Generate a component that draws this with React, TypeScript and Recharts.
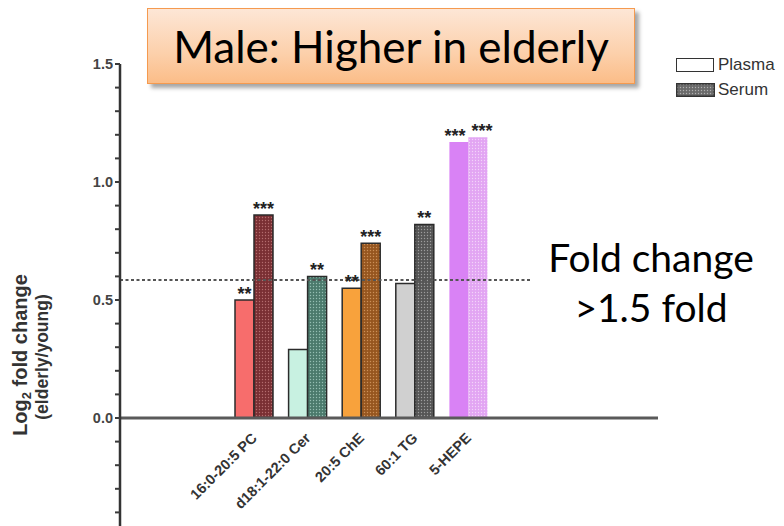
import React from 'react';
import { BarChart, Bar, XAxis, YAxis, Cell, LabelList, ReferenceLine } from 'recharts';

// lipid species, log2 fold change (elderly / young)
const species = ['16:0-20:5 PC', 'd18:1-22:0 Cer', '20:5 ChE', '60:1 TG', '5-HEPE'];
const plasma = [0.5, 0.29, 0.55, 0.57, 1.17];
const serum = [0.86, 0.6, 0.74, 0.82, 1.19];
const plasmaSig = ['**', '', '**', '', '***'];
const serumSig = ['***', '**', '***', '**', '***'];

const yTicks = [-0.5, -0.4, -0.3, -0.2, -0.1, 0, 0.1, 0.2, 0.3, 0.4, 0.5, 0.6, 0.7, 0.8, 0.9, 1.0, 1.1, 1.2, 1.3, 1.4, 1.5];
const labelledTicks = [0, 0.5, 1.0, 1.5];
const FOLD_THRESHOLD = 1.5;

const plasmaFill = ['#f76d6c', '#c8f1e1', '#f8a23c', '#d0d0d0', '#d982f5'];
const serumBase = ['#7a2f33', '#4b7a6c', '#96561f', '#555555', '#e2a5f3'];
const serumDot = ['#b46c6d', '#95beb2', '#cc9058', '#9c9c9c', '#f3d3fa'];
const barStroke = ['#2b2b2b', '#2b2b2b', '#2b2b2b', '#2b2b2b', 'none'];
// spread the asterisks apart where two neighbouring labels would touch
const sigNudge = [0, 0, 0, 0, 4];

const data = species.map((name, i) => ({
    name,
    plasma: plasma[i],
    serum: serum[i],
    plasmaSig: plasmaSig[i],
    serumSig: serumSig[i],
}));

const Y_MIN = -0.5;
const Y_MAX = 1.5;
const MARGIN = { top: 64, right: 126, bottom: 4, left: 60 };
const X_AXIS_H = 20;
const CHART_W = 784;
const CHART_H = 560;
const PLOT_H = CHART_H - MARGIN.top - MARGIN.bottom - X_AXIS_H;
const ZERO_Y = MARGIN.top + (PLOT_H * Y_MAX) / (Y_MAX - Y_MIN);

const axisFont = '"Liberation Sans", Arial, sans-serif';

const YTick = ({ x, y, payload }: any) => {
    const v = Number(payload.value);
    const labelled = labelledTicks.some((m) => Math.abs(m - v) < 1e-6);
    return (
        <g>
            <line x1={x - 5} y1={y} x2={x} y2={y} stroke="#3a3a3a" strokeWidth={2} />
            {labelled && (
                <text x={x - 7} y={y} dy={5} textAnchor="end" fontFamily={axisFont} fontWeight="bold" fontSize={14.5} fill="#444">
                    {v.toFixed(1)}
                </text>
            )}
        </g>
    );
};

const XTick = ({ x, payload }: any) => {
    const tx = x + 4;
    const ty = ZERO_Y + 21;
    return (
        <text x={tx} y={ty} textAnchor="end" transform={`rotate(-45, ${tx}, ${ty})`} fontFamily={axisFont} fontWeight="bold" fontSize={14.5} fill="#333">
            {payload.value}
        </text>
    );
};

const YLabel = () => (
    <g fontFamily={axisFont} fontWeight="bold" fill="#333">
        <text x={27} y={355} fontSize={20} textAnchor="middle" transform="rotate(-90, 27, 355)">
            Log<tspan dy={4} fontSize={13}>2</tspan>
            <tspan dy={-4}> fold change</tspan>
        </text>
        <text x={48} y={357} fontSize={17.5} textAnchor="middle" transform="rotate(-90, 48, 357)">
            (elderly/young)
        </text>
    </g>
);

const sigLabel = (side: number) => (props: any) => {
    const { x, y, width, value, index } = props;
    if (!value) return null;
    return (
        <text x={x + width / 2 + side * sigNudge[index]} y={y} textAnchor="middle" fontFamily={axisFont} fontWeight="bold" fontSize={18} fill="#222">
            {value}
        </text>
    );
};

const App = () => {
    return (
        <div style={{ position: 'absolute', left: 0, top: 0, width: CHART_W, height: 526, overflow: 'hidden', background: '#fff' }}>
            <BarChart width={CHART_W} height={CHART_H} data={data} margin={MARGIN} barGap={0}>
                <defs>
                    {serumBase.map((c, i) => (
                        <pattern key={i} id={`dots${i}`} width={3} height={3} patternUnits="userSpaceOnUse">
                            <rect width={3} height={3} fill={c} />
                            <circle cx={1.5} cy={1.5} r={0.7} fill={serumDot[i]} />
                        </pattern>
                    ))}
                </defs>
                <XAxis dataKey="name" height={X_AXIS_H} axisLine={false} tickLine={false} interval={0} padding={{ left: 107, right: 163 }} tick={<XTick />} />
                <YAxis
                    width={60}
                    domain={[Y_MIN, Y_MAX]}
                    ticks={yTicks}
                    interval={0}
                    allowDataOverflow
                    tickSize={0}
                    tickMargin={0}
                    tickLine={false}
                    axisLine={{ stroke: '#333', strokeWidth: 2.5 }}
                    tick={<YTick />}
                    label={<YLabel />}
                />
                <ReferenceLine y={Math.log2(FOLD_THRESHOLD)} stroke="#555" strokeWidth={2} strokeDasharray="3 2.5" />
                <ReferenceLine y={0} stroke="#5a5a5a" strokeWidth={3} />
                <Bar dataKey="plasma" barSize={19} isAnimationActive={false} strokeWidth={1.5}>
                    {data.map((_, i) => (
                        <Cell key={i} fill={plasmaFill[i]} stroke={barStroke[i]} />
                    ))}
                    <LabelList dataKey="plasmaSig" content={sigLabel(-1)} />
                </Bar>
                <Bar dataKey="serum" barSize={19} isAnimationActive={false} strokeWidth={1.5}>
                    {data.map((_, i) => (
                        <Cell key={i} fill={`url(#dots${i})`} stroke={barStroke[i]} />
                    ))}
                    <LabelList dataKey="serumSig" content={sigLabel(1)} />
                </Bar>
            </BarChart>

            {/* legend */}
            <div style={{ position: 'absolute', left: 676, top: 56, fontFamily: axisFont, fontSize: 17, color: '#333', lineHeight: '20px' }}>
                <div style={{ display: 'flex', alignItems: 'center', height: 18 }}>
                    <span style={{ display: 'inline-block', width: 36, height: 12, border: '1.5px solid #333', background: '#fff' }} />
                    <span style={{ marginLeft: 4 }}>Plasma</span>
                </div>
                <div style={{ display: 'flex', alignItems: 'center', height: 18, marginTop: 7 }}>
                    <svg width={39} height={14}>
                        <defs>
                            <pattern id="legendDots" width={3} height={3} patternUnits="userSpaceOnUse">
                                <rect width={3} height={3} fill="#6a6a6a" />
                                <circle cx={1.5} cy={1.5} r={0.7} fill="#b0b0b0" />
                            </pattern>
                        </defs>
                        <rect x={0.75} y={0.75} width={37.5} height={12.5} fill="url(#legendDots)" stroke="#333" strokeWidth={1.5} />
                    </svg>
                    <span style={{ marginLeft: 3 }}>Serum</span>
                </div>
            </div>

            {/* title callout */}
            <div
                style={{
                    position: 'absolute',
                    left: 147,
                    top: 8,
                    width: 486,
                    height: 74,
                    border: '1.5px solid #f59a4f',
                    background: 'linear-gradient(#fde6d6, #fcd0ab 60%, #fbbd88)',
                    boxShadow: '4px 4px 4px rgba(0,0,0,0.35)',
                    display: 'flex',
                    alignItems: 'center',
                    justifyContent: 'center',
                    fontFamily: 'Lato, "Open Sans", sans-serif',
                    fontSize: 44,
                    color: '#000',
                }}
            >
                Male: Higher in elderly
            </div>

            {/* threshold note */}
            <div
                style={{
                    position: 'absolute',
                    left: 530,
                    top: 232,
                    width: 242,
                    height: 108,
                    background: '#fff',
                    textAlign: 'center',
                    fontFamily: 'Lato, "Open Sans", sans-serif',
                    fontSize: 39,
                    lineHeight: '50px',
                    color: '#000',
                }}
            >
                Fold change
                <br />
                &gt;1.5 fold
            </div>
        </div>
    );
};

export default App;
